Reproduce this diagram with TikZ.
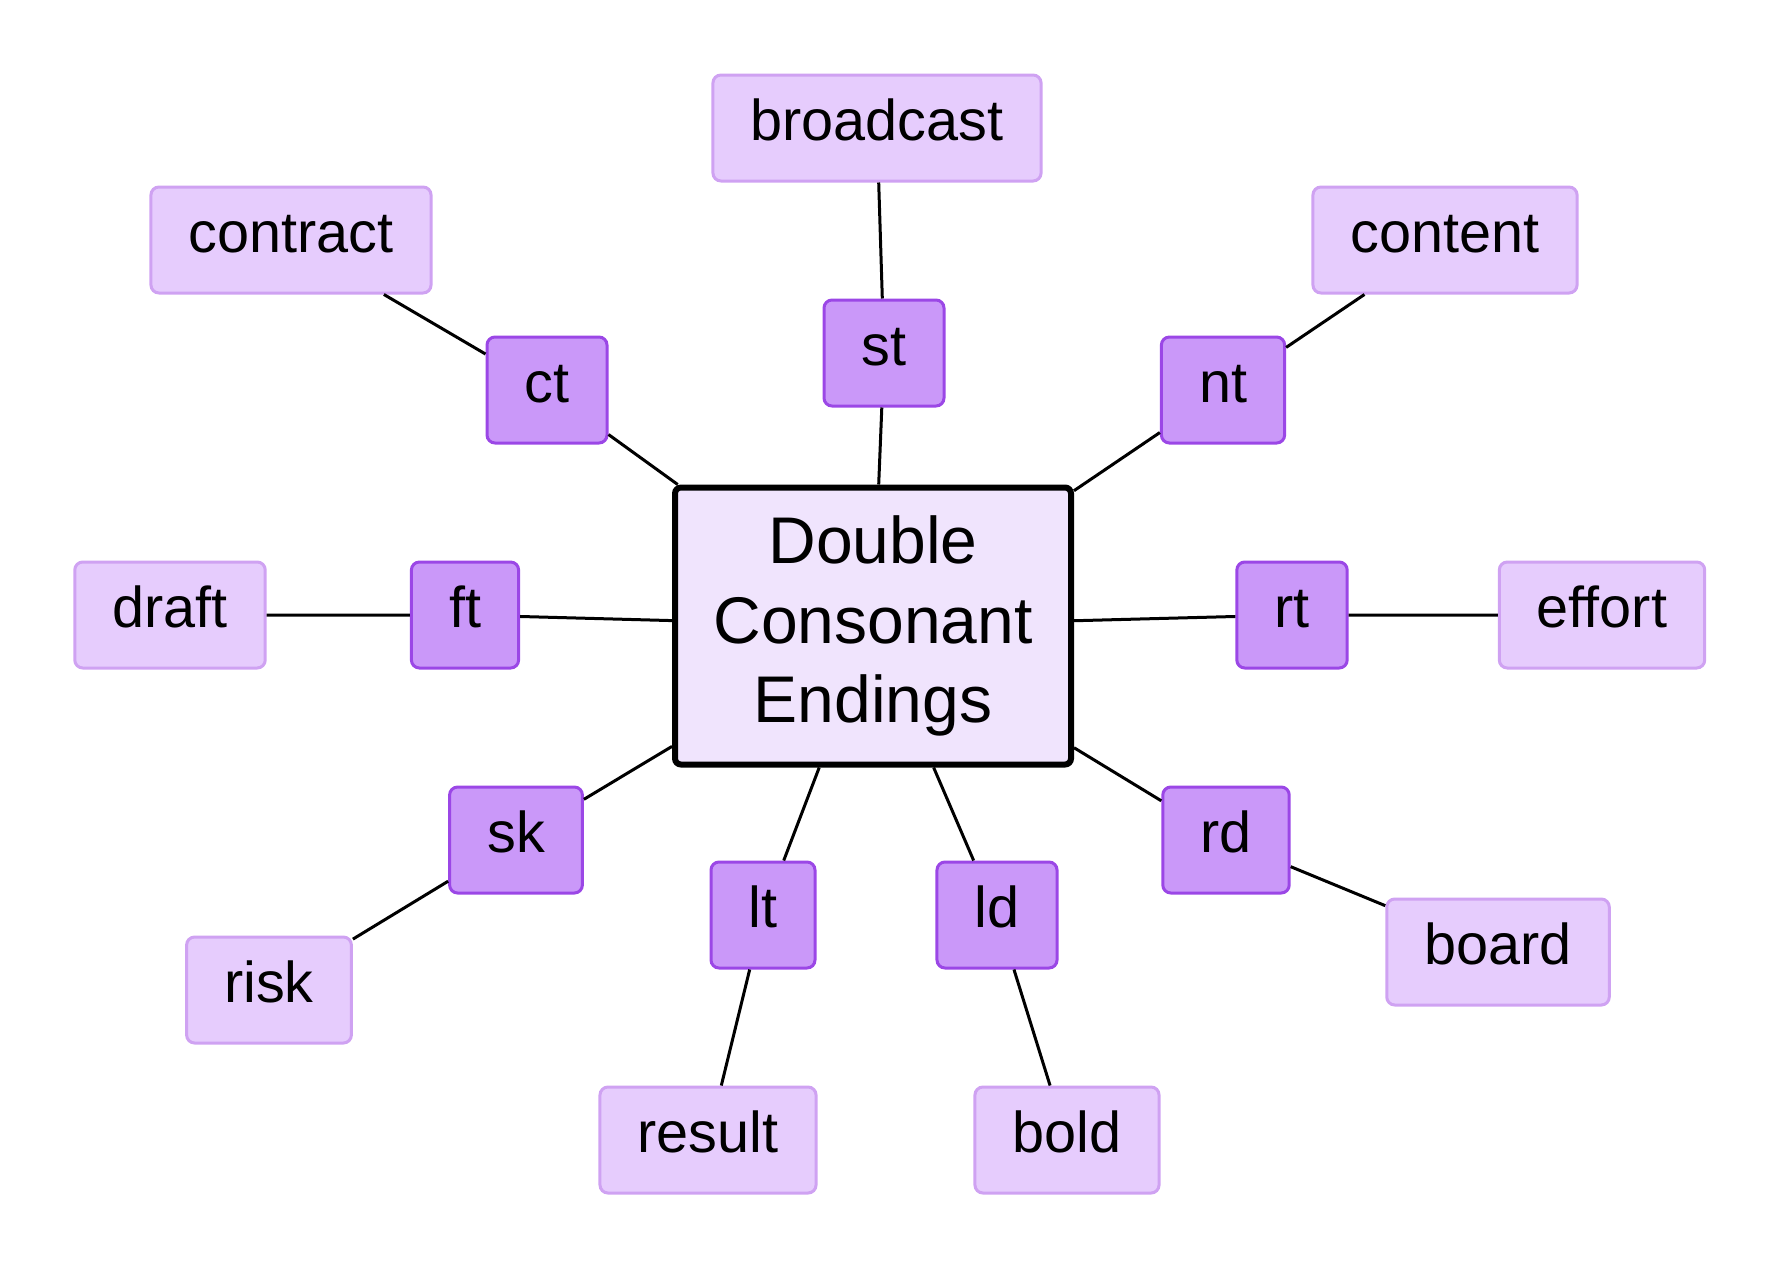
\documentclass[tikz,border=0pt]{standalone}
\usepackage{fontspec}
\setmainfont{Liberation Sans}
\definecolor{rootfill}{HTML}{F0E4FD}
\definecolor{pairfill}{HTML}{CA98F9}
\definecolor{pairdraw}{HTML}{9B47E6}
\definecolor{wordfill}{HTML}{E6CCFD}
\definecolor{worddraw}{HTML}{CFA2F2}
\begin{document}
\begin{tikzpicture}[
    x=0.5pt, y=-0.5pt,
    root/.style={
        draw=black,
        line width=3pt,
        fill=rootfill,
        rounded corners=3pt,
        minimum width=198pt,
        minimum height=138.5pt,
        align=center,
        font=\fontsize{33}{39.8}\selectfont
    },
    pair/.style={
        draw=pairdraw,
        line width=1.5pt,
        fill=pairfill,
        rounded corners=4pt,
        inner xsep=18.8pt,
        inner ysep=0pt,
        minimum height=53pt,
        text height=19.6pt,
        text depth=7.2pt,
        font=\fontsize{28.8}{34}\selectfont
    },
    word/.style={
        pair,
        draw=worddraw,
        fill=wordfill
    },
    link/.style={line width=1.5pt}
]
    \useasboundingbox (0,0) rectangle (1781,1269);

    \node[root] (root) at (873,626)
        {Double\\Consonant\\Endings};

    \node[pair] (st) at (884,353) {st};
    \node[pair] (ct) at (547,390) {ct};
    \node[pair] (nt) at (1223,390) {nt};
    \node[pair] (ft) at (465,615) {ft};
    \node[pair] (rt) at (1292,615) {rt};
    \node[pair] (sk) at (516,840) {sk};
    \node[pair] (rd) at (1226,840) {rd};
    \node[pair] (lt) at (763,915) {lt};
    \node[pair] (ld) at (997,915) {ld};

    \node[word] (broadcast) at (877,128) {broadcast};
    \node[word] (contract) at (291,240) {contract};
    \node[word] (content) at (1445,240) {content};
    \node[word] (draft) at (170,615) {draft};
    \node[word] (effort) at (1602,615) {effort};
    \node[word] (risk) at (269,990) {risk};
    \node[word] (board) at (1498,952) {board};
    \node[word] (result) at (708,1140) {result};
    \node[word] (bold) at (1067,1140) {bold};

    \draw[link] (root) -- (st) -- (broadcast);
    \draw[link] (root) -- (ct) -- (contract);
    \draw[link] (root) -- (nt) -- (content);
    \draw[link] (root) -- (ft) -- (draft);
    \draw[link] (root) -- (rt) -- (effort);
    \draw[link] (root) -- (sk) -- (risk);
    \draw[link] (root) -- (rd) -- (board);
    \draw[link] (root) -- (lt) -- (result);
    \draw[link] (root) -- (ld) -- (bold);
\end{tikzpicture}
\end{document}
